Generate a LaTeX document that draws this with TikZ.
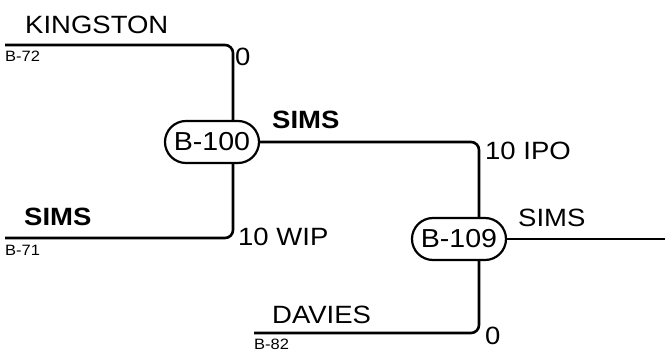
\documentclass[tikz,border=0pt]{standalone}
\usepackage{fontspec}
\setmainfont[FakeStretch=1.1]{Liberation Sans}
\usetikzlibrary{shapes.misc}
\tikzset{
  pipe/.style={line width=2.6pt, rounded corners=8pt},
  station/.style={draw, line width=2.2pt, rounded rectangle, minimum width=94pt,
    minimum height=42pt, inner sep=0pt, font=\fontsize{26}{30}\selectfont, fill=white},
  big/.style={anchor=base west, inner sep=0pt, font=\fontsize{25}{30}\selectfont},
  bigbold/.style={big, font=\fontsize{25}{30}\selectfont\bfseries},
  tag/.style={anchor=base west, inner sep=0pt, font=\fontsize{15}{18}\selectfont}
}
\begin{document}
\begin{tikzpicture}[x=1pt,y=-1pt]
\useasboundingbox (0,0) rectangle (665,351);

% stations:
\node[station] (b100) at (212,142) {B-100};
\node[station] (b109) at (459,239) {B-109};

% B-72:
\coordinate (b72) at (5,45);
\coordinate (c72) at (233,45);
\draw[pipe] (b72) -- (c72) -- (c72 |- b100.north);
\node[big] (kingston) at (25,33) {KINGSTON};
\node[tag] (t72) at (5,61) {B-72};
\node[big] (q72) at (235,65) {0};

% B-71:
\coordinate (b71) at (5,238);
\coordinate (c71) at (233,238);
\draw[pipe] (c71 |- b100.south) -- (c71) -- (b71);
\node[bigbold] (sims71) at (24,225) {SIMS};
\node[tag] (t71) at (5,255) {B-71};
\node[big] (q71) at (238,245) {10 WIP};

% B-100 to B-109:
\coordinate (c100) at (479,142);
\draw[pipe] (b100.east) -- (c100) -- (c100 |- b109.north);
\node[bigbold] (sims100) at (272,128) {SIMS};
\node[big] (q100) at (485,159) {10 IPO};

% B-82:
\coordinate (b82) at (254,333);
\coordinate (c82) at (479,333);
\draw[pipe] (c82 |- b109.south) -- (c82) -- (b82);
\node[big] (davies) at (272,323) {DAVIES};
\node[tag] (t82) at (254,349) {B-82};
\node[big] (q82) at (485,344) {0};

% out:
\coordinate (out) at (665,239);
\draw[pipe] (b109.east) -- (out);
\node[big] (sims109) at (518,226) {SIMS};
\end{tikzpicture}
\end{document}
